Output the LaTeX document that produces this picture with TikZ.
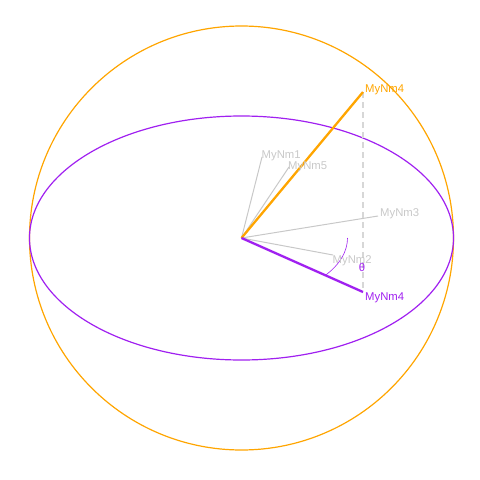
\documentclass[tikz,border=0pt]{standalone}
\usepackage{fontspec}
\setmainfont{Liberation Sans}
\definecolor{myorange}{RGB}{255,165,0}
\definecolor{mypurple}{RGB}{160,32,240}
\definecolor{lgray}{RGB}{200,200,200}
\definecolor{dgray}{RGB}{215,215,215}
\begin{document}
\begin{tikzpicture}[x=1pt,y=-1pt,
  lbl/.style={font=\fontsize{11.3}{12}\selectfont, inner sep=0pt, anchor=base west},
  vec/.style={line width=1pt, lgray},
  bigvec/.style={line width=2.3pt}]
\useasboundingbox (0,0) rectangle (480,480);
\coordinate (O) at (241.5,238);
\draw[myorange, line width=1.2pt] (O) circle[radius=212];
\draw[mypurple, line width=1.2pt] (O) ellipse[x radius=212, y radius=122];
\coordinate (e1) at (262,157);
\coordinate (e5) at (289,167);
\coordinate (e3) at (378,216);
\coordinate (e2) at (333,255);
\coordinate (eo) at (363,92);
\coordinate (ep) at (363,292);
\draw[vec] (O) -- (e1);
\draw[vec] (O) -- (e5);
\draw[vec] (O) -- (e3);
\draw[vec] (O) -- (e2);
\draw[dgray, line width=1.8pt, dash pattern=on 6pt off 4pt] (eo) -- (ep);
\draw[myorange, bigvec] (O) -- (eo);
\draw[mypurple, bigvec] (O) -- (ep);
\draw[mypurple, line width=0.6pt] ([xshift=106pt]O) arc[start angle=0, end angle=37, x radius=106, y radius=61];
\node[lbl, text=lgray] (l1) at (261.5,158.5) {MyNm1};
\node[lbl, text=lgray] (l5) at (288,169) {MyNm5};
\node[lbl, text=lgray] (l3) at (380,216) {MyNm3};
\node[lbl, text=lgray] (l2) at (332.5,263) {MyNm2};
\node[lbl, text=myorange] (lo) at (365,92.5) {MyNm4};
\node[lbl, text=mypurple] (lp) at (365,300) {MyNm4};
\node[lbl, text=mypurple, anchor=base] (th) at (362,271) {θ};
\end{tikzpicture}
\end{document}
